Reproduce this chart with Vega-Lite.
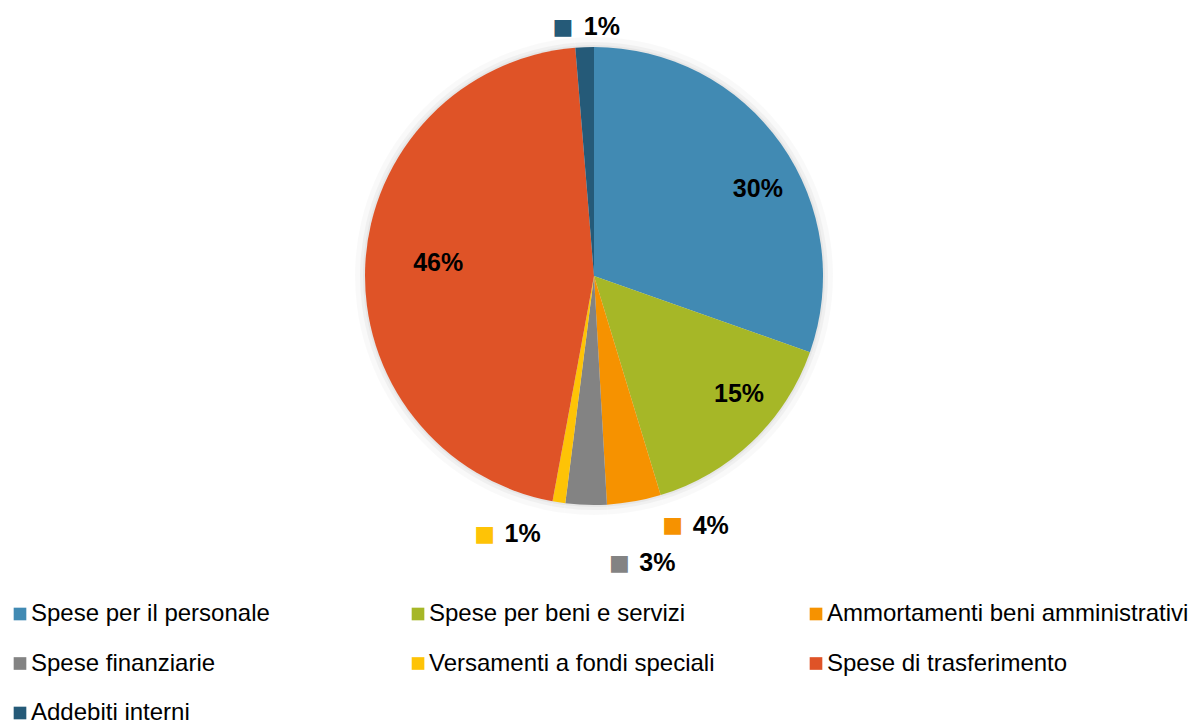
{
  "$schema": "https://vega.github.io/schema/vega-lite/v6.json",
  "width": 1188,
  "height": 552,
  "autosize": {"type": "none"},
  "padding": {"left": 0, "top": 0, "right": 3, "bottom": 168},
  "background": "white",
  "config": {"view": {"stroke": null}, "font": "Liberation Sans"},
  "data": {"values": [
    {"cat": "Spese per il personale", "value": 30.4, "label": "30%", "ord": 1},
    {"cat": "Spese per beni e servizi", "value": 14.9, "label": "15%", "ord": 2},
    {"cat": "Ammortamenti beni amministrativi", "value": 3.8, "label": "4%", "ord": 3},
    {"cat": "Spese finanziarie", "value": 2.9, "label": "3%", "ord": 4},
    {"cat": "Versamenti a fondi speciali", "value": 0.9, "label": "1%", "ord": 5},
    {"cat": "Spese di trasferimento", "value": 45.8, "label": "46%", "ord": 6},
    {"cat": "Addebiti interni", "value": 1.3, "label": "1%", "ord": 7}
  ]},
  "encoding": {
    "theta": {"field": "value", "type": "quantitative", "stack": true},
    "order": {"field": "ord", "type": "quantitative"},
    "color": {
      "field": "cat", "type": "nominal",
      "scale": {
        "domain": ["Spese per il personale", "Spese per beni e servizi", "Ammortamenti beni amministrativi", "Spese finanziarie", "Versamenti a fondi speciali", "Spese di trasferimento", "Addebiti interni"],
        "range": ["#418AB3", "#A6B727", "#F69200", "#838383", "#FEC306", "#DF5327", "#255A78"]
      },
      "legend": {
        "title": null,
        "orient": "none",
        "direction": "horizontal",
        "legendX": 8,
        "legendY": 602,
        "columns": 3,
        "gridAlign": "all",
        "columnPadding": 13,
        "rowPadding": 25.5,
        "padding": 0,
        "values": ["Spese per il personale", "Spese per beni e servizi", "Ammortamenti beni amministrativi", "Spese finanziarie", "Versamenti a fondi speciali", "Spese di trasferimento", "Addebiti interni"],
        "symbolType": "square",
        "symbolSize": 160,
        "symbolStrokeWidth": 0,
        "symbolOpacity": 1,
        "labelFontSize": 24,
        "labelFont": "Liberation Sans",
        "labelColor": "#000000",
        "labelOffset": -1,
        "labelLimit": 600
      }
    }
  },
  "layer": [
    {"mark": {"type": "arc", "outerRadius": 239, "strokeWidth": 0, "opacity": 0.025},
     "encoding": {"color": {"value": "#000000"}}},
    {"mark": {"type": "arc", "outerRadius": 234, "strokeWidth": 0, "opacity": 0.035},
     "encoding": {"color": {"value": "#000000"}}},
    {"mark": {"type": "arc", "outerRadius": 231, "strokeWidth": 0, "opacity": 0.04},
     "encoding": {"color": {"value": "#000000"}}},
    {"mark": {"type": "arc", "outerRadius": 229, "strokeWidth": 0}},
    {"mark": {"type": "text", "radius": 175, "dx": 21, "dy": 14, "fontSize": 25, "fontWeight": "bold", "font": "Liberation Sans"},
     "encoding": {"text": {"condition": {"test": "datum.cat === 'Spese per il personale'", "field": "label"}, "value": ""}, "color": {"value": "#000000"}}},
    {"mark": {"type": "text", "radius": 175, "dx": 24, "dy": -8, "fontSize": 25, "fontWeight": "bold", "font": "Liberation Sans"},
     "encoding": {"text": {"condition": {"test": "datum.cat === 'Spese per beni e servizi'", "field": "label"}, "value": ""}, "color": {"value": "#000000"}}},
    {"mark": {"type": "text", "radius": 175, "dx": 19, "dy": -4, "fontSize": 25, "fontWeight": "bold", "font": "Liberation Sans"},
     "encoding": {"text": {"condition": {"test": "datum.cat === 'Spese di trasferimento'", "field": "label"}, "value": ""}, "color": {"value": "#000000"}}},
    {"mark": {"type": "text", "radius": 250, "dx": 73, "dy": 4, "fontSize": 25, "fontWeight": "bold", "font": "Liberation Sans"},
     "encoding": {"text": {"condition": {"test": "datum.cat === 'Ammortamenti beni amministrativi'", "field": "label"}, "value": ""}, "color": {"value": "#000000"}}},
    {"mark": {"type": "text", "radius": 250, "dx": 35, "dy": 3, "fontSize": 22, "font": "DejaVu Sans"},
     "encoding": {"text": {"condition": {"test": "datum.cat === 'Ammortamenti beni amministrativi'", "value": "■"}, "value": ""}}},
    {"mark": {"type": "text", "radius": 250, "dx": 72, "dy": 37, "fontSize": 25, "fontWeight": "bold", "font": "Liberation Sans"},
     "encoding": {"text": {"condition": {"test": "datum.cat === 'Spese finanziarie'", "field": "label"}, "value": ""}, "color": {"value": "#000000"}}},
    {"mark": {"type": "text", "radius": 250, "dx": 34, "dy": 37, "fontSize": 22, "font": "DejaVu Sans"},
     "encoding": {"text": {"condition": {"test": "datum.cat === 'Spese finanziarie'", "value": "■"}, "value": ""}}},
    {"mark": {"type": "text", "radius": 250, "dx": -33, "dy": 11, "fontSize": 25, "fontWeight": "bold", "font": "Liberation Sans"},
     "encoding": {"text": {"condition": {"test": "datum.cat === 'Versamenti a fondi speciali'", "field": "label"}, "value": ""}, "color": {"value": "#000000"}}},
    {"mark": {"type": "text", "radius": 250, "dx": -71, "dy": 11, "fontSize": 22, "font": "DejaVu Sans"},
     "encoding": {"text": {"condition": {"test": "datum.cat === 'Versamenti a fondi speciali'", "value": "■"}, "value": ""}}},
    {"mark": {"type": "text", "radius": 250, "dx": 18, "dy": 1, "fontSize": 25, "fontWeight": "bold", "font": "Liberation Sans"},
     "encoding": {"text": {"condition": {"test": "datum.cat === 'Addebiti interni'", "field": "label"}, "value": ""}, "color": {"value": "#000000"}}},
    {"mark": {"type": "text", "radius": 250, "dx": -21, "dy": 1, "fontSize": 22, "font": "DejaVu Sans"},
     "encoding": {"text": {"condition": {"test": "datum.cat === 'Addebiti interni'", "value": "■"}, "value": ""}}}
  ]
}
